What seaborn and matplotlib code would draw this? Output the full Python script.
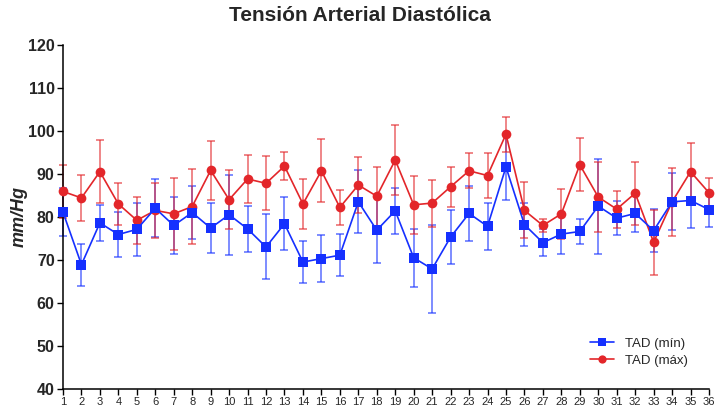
import matplotlib
matplotlib.use("Agg")
import matplotlib.pyplot as plt
import seaborn as sns
import pandas as pd

# Days 1..36
days = list(range(1, 37))

# TAD (mín): mean and SD
min_mean = [81.1, 68.9, 78.6, 75.9, 77.1, 82.0, 78.0, 81.0, 77.4, 80.5,
            77.2, 73.0, 78.4, 69.5, 70.3, 71.1, 83.5, 76.9, 81.4, 70.5,
            67.9, 75.3, 80.8, 77.8, 91.6, 78.2, 74.0, 76.0, 76.6, 82.5,
            79.7, 80.8, 76.8, 83.5, 83.8, 81.7]
min_sd = [5.6, 4.85, 4.15, 5.15, 6.2, 6.7, 6.6, 6.1, 5.9, 9.3,
          5.35, 7.55, 6.2, 4.85, 5.5, 4.9, 7.3, 7.65, 5.4, 6.7,
          10.15, 6.3, 6.35, 5.5, 7.7, 5.05, 3.1, 4.65, 2.85, 11.05,
          3.95, 4.4, 5.0, 6.6, 6.5, 4.1]

# TAD (máx): mean and SD
max_mean = [85.9, 84.4, 90.5, 83.0, 79.2, 81.5, 80.7, 82.4, 90.8, 84.0,
            88.8, 87.8, 91.8, 83.0, 90.7, 82.2, 87.4, 84.8, 93.2, 82.8,
            83.2, 87.0, 90.7, 89.6, 99.2, 81.5, 78.0, 80.7, 92.1, 84.6,
            81.8, 85.5, 74.1, 83.5, 90.5, 85.6]
max_sd = [6.2, 5.35, 7.35, 4.85, 5.5, 6.3, 8.4, 8.7, 6.85, 6.9,
          5.65, 6.25, 3.3, 5.8, 7.3, 4.1, 6.6, 6.9, 8.2, 6.7,
          5.45, 4.65, 4.1, 5.2, 4.1, 6.5, 1.5, 5.75, 6.15, 8.2,
          4.3, 7.3, 7.55, 7.9, 6.7, 3.5]

series_labels = ["TAD (mín)", "TAD (máx)"]
blue = "#1530ff"
red = "#e3262a"

df = pd.concat([
    pd.DataFrame({"dia": days, "valor": min_mean, "sd": min_sd, "serie": series_labels[0]}),
    pd.DataFrame({"dia": days, "valor": max_mean, "sd": max_sd, "serie": series_labels[1]}),
], ignore_index=True)

sns.set_style("ticks")
plt.rcParams["font.family"] = ["Liberation Sans", "DejaVu Sans"]

fig = plt.figure(figsize=(7.19, 4.11), dpi=100)
ax = fig.add_axes([0.0876, 0.0535, 0.8985, 0.8377])

styles = {series_labels[0]: (blue, "s"), series_labels[1]: (red, "o")}
for name in series_labels:
    sub = df[df["serie"] == name]
    color, marker = styles[name]
    eb = ax.errorbar(sub["dia"], sub["valor"], yerr=sub["sd"], fmt="none",
                     ecolor=color, elinewidth=1.1, capsize=3, capthick=1.1,
                     alpha=0.7, zorder=2)
    for art in eb.lines[1] + eb.lines[2]:
        art.set_clip_on(False)
    for art in eb.lines[2]:
        art.set_clip_on(False)

sns.lineplot(data=df, x="dia", y="valor", hue="serie", style="serie",
             palette={series_labels[0]: blue, series_labels[1]: red},
             markers={series_labels[0]: "s", series_labels[1]: "o"},
             dashes=False, markersize=7, markeredgewidth=0, linewidth=1.2,
             hue_order=series_labels[::-1], ax=ax, zorder=3)
for line in ax.lines:
    line.set_clip_on(False)
for coll in ax.collections:
    coll.set_clip_on(False)

ax.set_xlim(1, 36)
ax.set_ylim(40, 120)
ax.set_xticks(days)
ax.set_xticklabels([str(d) for d in days], fontsize=8)
ax.set_yticks(range(40, 121, 10))
ax.set_yticklabels([str(v) for v in range(40, 121, 10)],
                   fontsize=11.5, fontweight="bold")
ax.tick_params(axis="both", direction="out", length=4, width=1, pad=2, color="black")
ax.set_xlabel("")
ax.set_ylabel("mm/Hg", fontsize=13, fontweight="bold", fontstyle="italic", labelpad=0)
sns.despine(ax=ax)
for sp in ["left", "bottom"]:
    ax.spines[sp].set_linewidth(1.1)
    ax.spines[sp].set_color("black")

fig.suptitle("Tensión Arterial Diastólica", x=0.5, y=0.985, fontsize=15,
             fontweight="bold", family=["Liberation Sans Narrow", "Liberation Sans"])

handles, labels = ax.get_legend_handles_labels()
order = [labels.index(s) for s in series_labels]
ax.legend([handles[i] for i in order], [labels[i] for i in order],
          loc="lower right", bbox_to_anchor=(0.985, 0.03), frameon=False,
          fontsize=9.5, handlelength=1.8, markerscale=0.85, labelspacing=0.35)

fig.savefig("out.png", dpi=100)
